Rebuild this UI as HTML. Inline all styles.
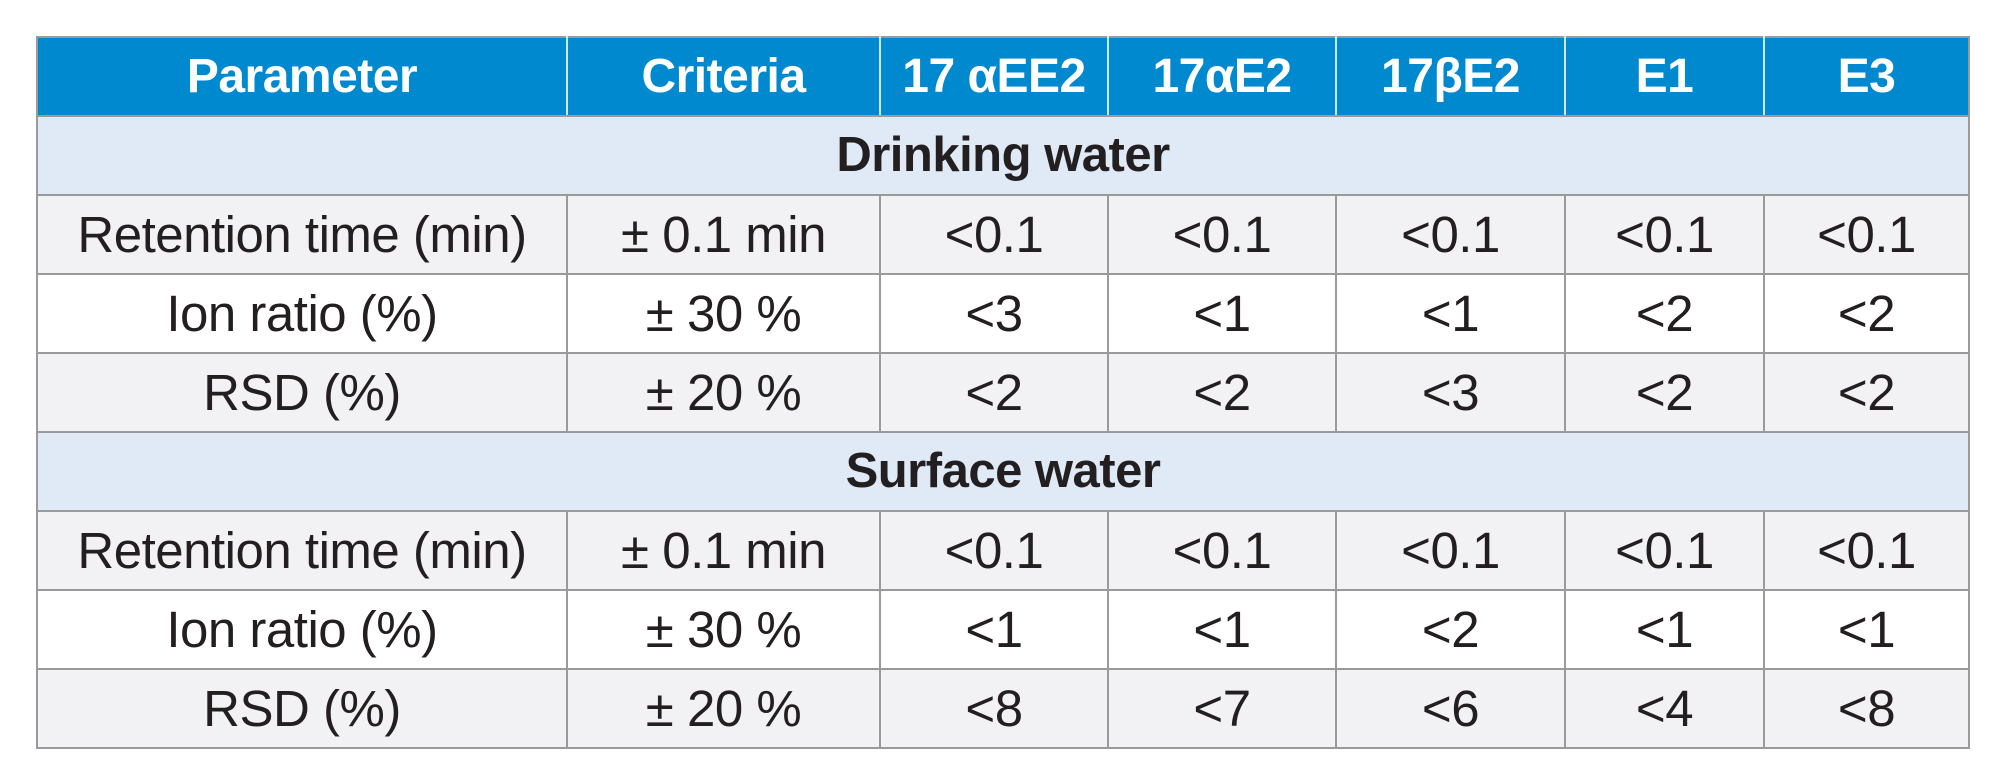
<!DOCTYPE html>
<html><head><meta charset="utf-8"><style>
html,body{margin:0;padding:0;background:#fff;width:2000px;height:782px;overflow:hidden}
table{position:absolute;left:36px;top:36px;border-collapse:collapse;font-family:"Liberation Sans",sans-serif;color:#231f20}
td,th{border:2px solid #9a9a9a;text-align:center;padding:0;height:77px;font-size:51px;font-weight:normal;letter-spacing:-0.5px;line-height:1;white-space:nowrap}
th{background:#0089cf;color:#fff;font-weight:bold;font-size:48px;border-color:#9a9a9a;border-left:2px solid #cfe8f7;border-right:2px solid #cfe8f7}
th:first-child{border-left:2px solid #9a9a9a}th:last-child{border-right:2px solid #9a9a9a}
tr.sec td{background:#dfeaf6;font-weight:bold;font-size:49px}
tr.g td{background:#f2f2f4}
tr.w td{background:#fff}
</style></head><body>
<table>
<colgroup><col style="width:530px"><col style="width:313px"><col style="width:228px"><col style="width:228px"><col style="width:229px"><col style="width:199px"><col style="width:205px"></colgroup>
<tr><th>Parameter</th><th>Criteria</th><th>17 αEE2</th><th>17αE2</th><th>17βE2</th><th>E1</th><th>E3</th></tr>
<tr class="sec"><td colspan="7">Drinking water</td></tr>
<tr class="g"><td>Retention time (min)</td><td>± 0.1 min</td><td>&lt;0.1</td><td>&lt;0.1</td><td>&lt;0.1</td><td>&lt;0.1</td><td>&lt;0.1</td></tr>
<tr class="w"><td>Ion ratio (%)</td><td>± 30 %</td><td>&lt;3</td><td>&lt;1</td><td>&lt;1</td><td>&lt;2</td><td>&lt;2</td></tr>
<tr class="g"><td>RSD (%)</td><td>± 20 %</td><td>&lt;2</td><td>&lt;2</td><td>&lt;3</td><td>&lt;2</td><td>&lt;2</td></tr>
<tr class="sec"><td colspan="7">Surface water</td></tr>
<tr class="g"><td>Retention time (min)</td><td>± 0.1 min</td><td>&lt;0.1</td><td>&lt;0.1</td><td>&lt;0.1</td><td>&lt;0.1</td><td>&lt;0.1</td></tr>
<tr class="w"><td>Ion ratio (%)</td><td>± 30 %</td><td>&lt;1</td><td>&lt;1</td><td>&lt;2</td><td>&lt;1</td><td>&lt;1</td></tr>
<tr class="g"><td>RSD (%)</td><td>± 20 %</td><td>&lt;8</td><td>&lt;7</td><td>&lt;6</td><td>&lt;4</td><td>&lt;8</td></tr>
</table>
</body></html>
